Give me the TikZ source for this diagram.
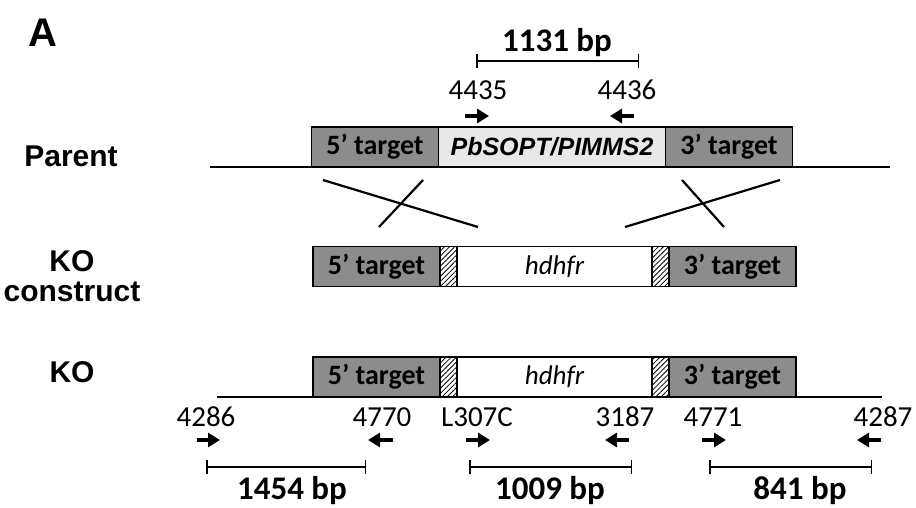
\documentclass[tikz,border=0pt]{standalone}
\usepackage{fontspec}
\setmainfont{Carlito}
\newfontfamily\arialfont{Liberation Sans}
\usetikzlibrary{arrows.meta, positioning, patterns.meta}
\definecolor{targetgray}{RGB}{140,140,140}
\definecolor{genegray}{RGB}{232,232,232}

\begin{document}
\begin{tikzpicture}[x=1pt, y=-1pt,
    segment/.style={draw=black, line width=1.5pt, inner sep=0pt, outer sep=0pt, minimum height=40pt, font=\fontsize{28}{30}\selectfont\bfseries},
    target/.style={segment, fill=targetgray, minimum width=127pt},
    gene/.style={segment, fill=genegray, minimum width=227pt, font=\arialfont\fontsize{25}{28}\selectfont\bfseries\itshape},
    marker/.style={segment, fill=white, minimum width=195pt, font=\fontsize{27}{30}\selectfont\itshape},
    hatch/.style={segment, minimum width=17pt, pattern={Lines[angle=45, distance=3.6pt, line width=0.8pt]}},
    chrom/.style={line width=2pt},
    cross/.style={line width=2.2pt},
    primer/.style={-{Triangle[length=12pt, width=14pt]}, line width=3.5pt},
    primername/.style={font=\fontsize{29}{30}\selectfont, inner sep=0pt, anchor=base},
    sizebar/.style={{Bar[width=14pt]}-{Bar[width=14pt]}, line width=1.5pt},
    sizename/.style={font=\fontsize{33}{36}\selectfont\bfseries, inner sep=0pt, anchor=base},
    rowname/.style={font=\arialfont\fontsize{30}{30}\selectfont\bfseries, align=center, inner sep=0pt}
]
\useasboundingbox (0,0) rectangle (916,508);

% Row names
\node[rowname, font=\arialfont\fontsize{40}{44}\selectfont\bfseries] (panel) at (43,33) {A};
\node[rowname] (parent) at (71,156) {Parent};
\node[rowname] (construct) at (72,276) {KO\\construct};
\node[rowname] (ko) at (72,372) {KO};

% Parent locus
\coordinate (parL) at (210,167);
\coordinate (parR) at (890,167);
\draw[chrom] (parL) -- (parR);
\node[target] (p5) at (375,147) {5’ target};
\node[gene, right=0pt of p5] (pgene) {PbSOPT/PIMMS2};
\node[target, right=0pt of pgene] (p3) {3’ target};

% Parent primers
\node[primername] (n4435) at (478,100) {4435};
\node[primername] (n4436) at (627,100) {4436};
\draw[primer] (465,116) -- (489,116);
\draw[primer] (634,116) -- (610,116);
\draw[sizebar] (476,61) -- (639,61);
\node[sizename] (s1131) at (557,52) {1131 bp};

% Crossovers
\draw[cross] (323,180) -- (478,227);
\draw[cross] (423,180) -- (379,227);
\draw[cross] (780,180) -- (625,227);
\draw[cross] (682,180) -- (724,227);

% KO construct
\node[target] (c5) at (376.5,266.5) {5’ target};
\node[hatch, right=0pt of c5] (c5h) {};
\node[marker, right=0pt of c5h] (cdhfr) {hdhfr};
\node[hatch, right=0pt of cdhfr] (c3h) {};
\node[target, right=0pt of c3h] (c3) {3’ target};

% KO locus
\coordinate (koL) at (217,397);
\coordinate (koR) at (882,397);
\draw[chrom] (koL) -- (koR);
\node[target] (k5) at (376.5,377) {5’ target};
\node[hatch, right=0pt of k5] (k5h) {};
\node[marker, right=0pt of k5h] (kdhfr) {hdhfr};
\node[hatch, right=0pt of kdhfr] (k3h) {};
\node[target, right=0pt of k3h] (k3) {3’ target};

% KO primers
\node[primername] (n4286) at (206,426) {4286};
\node[primername] (n4770) at (382,426) {4770};
\node[primername] (nL307C) at (477,426) {L307C};
\node[primername] (n3187) at (625,426) {3187};
\node[primername] (n4771) at (713,426) {4771};
\node[primername] (n4287) at (883,426) {4287};
\draw[primer] (197,440) -- (220,440);
\draw[primer] (393,440) -- (368,440);
\draw[primer] (466,440) -- (490,440);
\draw[primer] (629,440) -- (605,440);
\draw[primer] (702,440) -- (726,440);
\draw[primer] (881,440) -- (857,440);

% Products
\draw[sizebar] (206,467) -- (366,467);
\draw[sizebar] (469,467) -- (632,467);
\draw[sizebar] (709,467) -- (872,467);
\node[sizename] (s1454) at (292,499) {1454 bp};
\node[sizename] (s1009) at (550,499) {1009 bp};
\node[sizename] (s841) at (800,499) {841 bp};

\end{tikzpicture}
\end{document}
